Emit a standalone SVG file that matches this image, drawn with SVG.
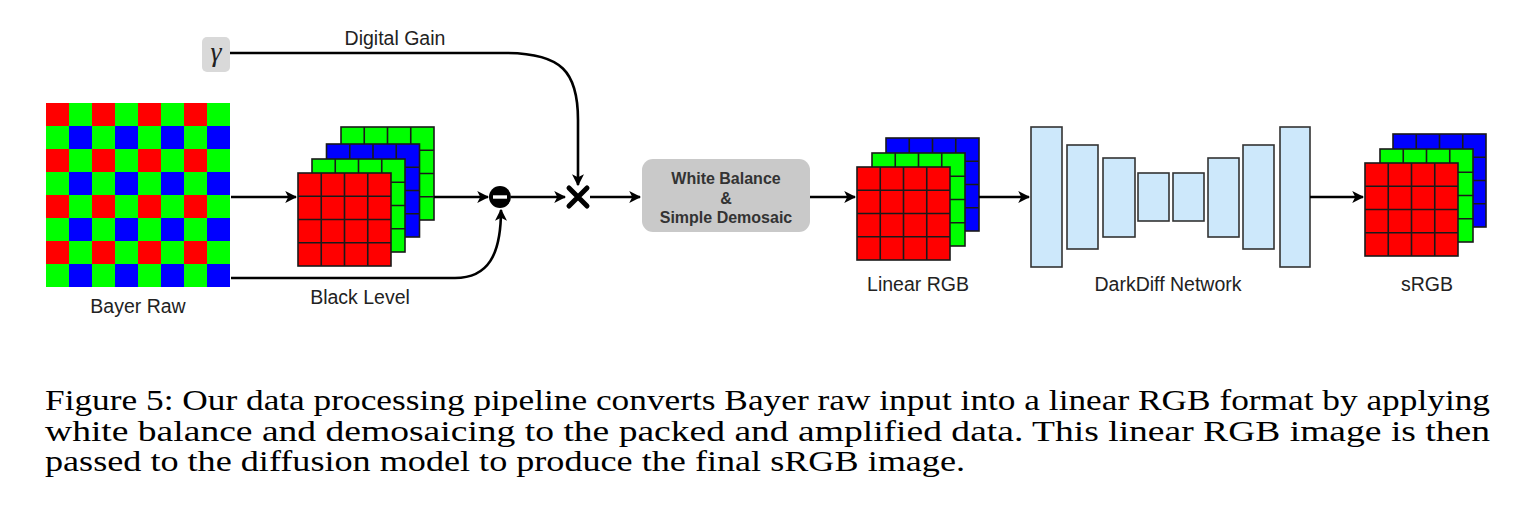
<svg xmlns="http://www.w3.org/2000/svg" xmlns:xlink="http://www.w3.org/1999/xlink" width="1536" height="526" viewBox="0 0 1536 526">
<style>
.lbl{font-family:"Liberation Sans",Arial,sans-serif;fill:#222;text-anchor:middle;font-size:19.5px}
.cap{font-family:"Times New Roman","Liberation Serif",Tinos,Times,serif;font-size:30px;fill:#000}
.conn{fill:none;stroke:#000;stroke-width:2.6}
.grid{stroke:#1a1a1a;stroke-width:1.6}
.blk{fill:#cde8fb;stroke:#333;stroke-width:1.6}
.wbt{font-family:"Liberation Sans",Arial,sans-serif;fill:#333;text-anchor:middle;font-size:16px;font-weight:bold}
.R{fill:#ff0000}.G{fill:#00ff00}.B{fill:#0000ff}
</style>
<defs>
<marker id="ah" viewBox="0 0 10 10" refX="9" refY="5" markerWidth="4.6" markerHeight="4.6" orient="auto" markerUnits="strokeWidth">
<path d="M0,0 L10,5 L0,10 L2.5,5 Z" fill="#000"/>
</marker>
<g id="cells">
<rect x="0" y="0" width="93" height="93"/>
<path d="M23.25,0V93M46.5,0V93M69.75,0V93M0,23.25H93M0,46.5H93M0,69.75H93" fill="none"/>
</g>
<pattern id="bayer" x="46" y="103" width="46" height="46" patternUnits="userSpaceOnUse">
<rect x="0" y="0" width="23" height="23" fill="#ff0000"/>
<rect x="23" y="0" width="23" height="23" fill="#00ff00"/>
<rect x="0" y="23" width="23" height="23" fill="#00ff00"/>
<rect x="23" y="23" width="23" height="23" fill="#0000ff"/>
</pattern>
</defs>

<g id="bayer-raw">
<rect x="46" y="103" width="184" height="184" fill="url(#bayer)"/>
<text class="lbl" x="138" y="313">Bayer Raw</text>
</g>

<g id="gamma">
<rect x="202" y="37" width="28" height="35" rx="5" fill="#d9d9d9"/>
<text x="216" y="61" font-family="'Times New Roman','Liberation Serif',serif" font-style="italic" font-size="28" text-anchor="middle" fill="#222">γ</text>
</g>

<g id="packed">
<g class="grid G" transform="translate(341,127)"><use xlink:href="#cells"/></g>
<g class="grid B" transform="translate(326.5,144)"><use xlink:href="#cells"/></g>
<g class="grid G" transform="translate(312,159)"><use xlink:href="#cells"/></g>
<g class="grid R" transform="translate(298,173)"><use xlink:href="#cells"/></g>
</g>

<g id="subtract">
<circle cx="500" cy="197" r="11" fill="#000"/>
<rect x="493" y="195.3" width="14" height="3.4" fill="#fff"/>
</g>

<g id="multiply">
<path d="M569,188 L587,206 M587,188 L569,206" stroke="#000" stroke-width="5" stroke-linecap="round"/>
</g>

<g id="wb">
<rect x="642" y="159" width="168" height="73" rx="11" fill="#c9c9c9"/>
<text class="wbt" x="726" y="184">White Balance</text>
<text class="wbt" x="726" y="204">&amp;</text>
<text class="wbt" x="726" y="223">Simple Demosaic</text>
</g>

<g id="linear-rgb">
<g class="grid B" transform="translate(886,138)"><use xlink:href="#cells"/></g>
<g class="grid G" transform="translate(872,153)"><use xlink:href="#cells"/></g>
<g class="grid R" transform="translate(857,167)"><use xlink:href="#cells"/></g>
<text class="lbl" x="918" y="291">Linear RGB</text>
</g>

<g id="network">
<rect class="blk" x="1031" y="127" width="31" height="140"/>
<rect class="blk" x="1067" y="145" width="31" height="104"/>
<rect class="blk" x="1103" y="158" width="32" height="79"/>
<rect class="blk" x="1138" y="173" width="31" height="48"/>
<rect class="blk" x="1173" y="173" width="31" height="48"/>
<rect class="blk" x="1208" y="158" width="31" height="79"/>
<rect class="blk" x="1243" y="145" width="31" height="104"/>
<rect class="blk" x="1280" y="127" width="30" height="140"/>
<text class="lbl" x="1168" y="291">DarkDiff Network</text>
</g>

<g id="srgb">
<g class="grid B" transform="translate(1393,134)"><use xlink:href="#cells"/></g>
<g class="grid G" transform="translate(1380,149)"><use xlink:href="#cells"/></g>
<g class="grid R" transform="translate(1365,163)"><use xlink:href="#cells"/></g>
<text class="lbl" x="1427" y="291">sRGB</text>
</g>

<g id="connectors">
<path class="conn" d="M231,197 H296" marker-end="url(#ah)"/>
<path class="conn" d="M434,197 H488" marker-end="url(#ah)"/>
<path class="conn" d="M231,278 H455 C488,278 501,255 501,210" marker-end="url(#ah)"/>
<path class="conn" d="M511,197 H565" marker-end="url(#ah)"/>
<path class="conn" d="M230,53 H505 C562,53 578,72 578,120 V185" marker-end="url(#ah)"/>
<path class="conn" d="M590,197 H640" marker-end="url(#ah)"/>
<path class="conn" d="M810,197 H855" marker-end="url(#ah)"/>
<path class="conn" d="M979,197 H1029" marker-end="url(#ah)"/>
<path class="conn" d="M1310,197 H1363" marker-end="url(#ah)"/>
<text class="lbl" x="395" y="45">Digital Gain</text>
<text class="lbl" x="360" y="304" font-size="17">Black Level</text>
</g>

<g id="caption">
<text class="cap" x="45" y="410" textLength="1445" lengthAdjust="spacingAndGlyphs">Figure 5: Our data processing pipeline converts Bayer raw input into a linear RGB format by applying</text>
<text class="cap" x="45" y="441" textLength="1445" lengthAdjust="spacingAndGlyphs">white balance and demosaicing to the packed and amplified data. This linear RGB image is then</text>
<text class="cap" x="45" y="471" textLength="920" lengthAdjust="spacingAndGlyphs">passed to the diffusion model to produce the final sRGB image.</text>
</g>
</svg>
